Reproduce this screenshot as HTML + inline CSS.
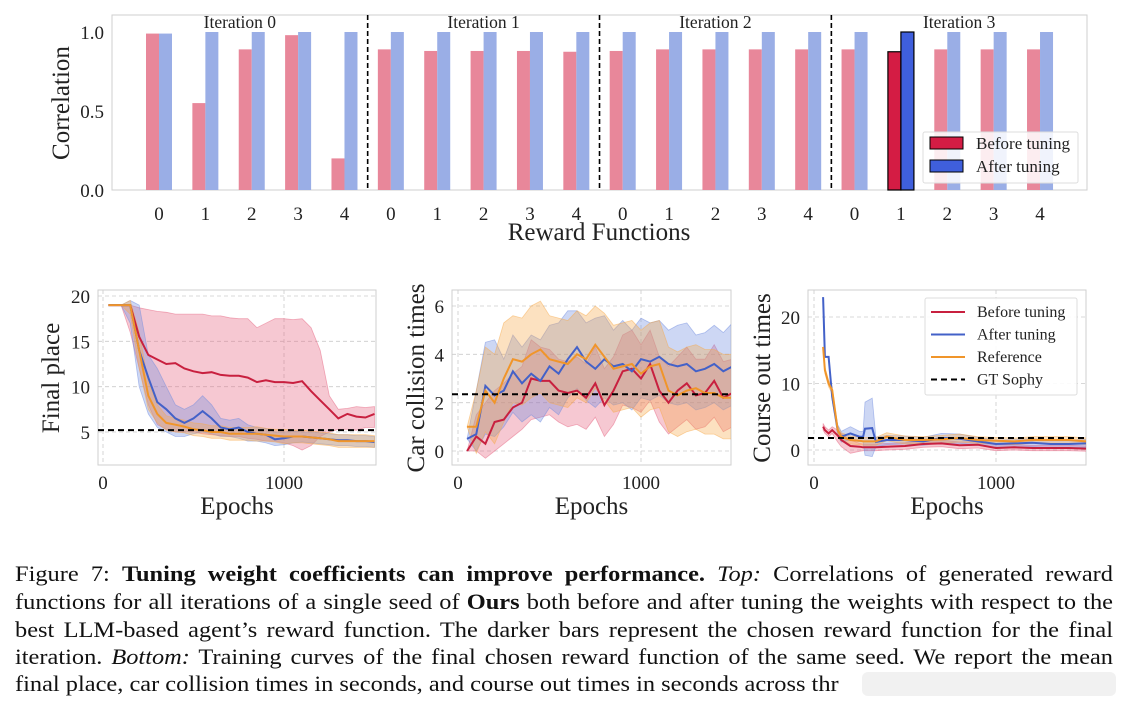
<!DOCTYPE html>
<html><head><meta charset="utf-8">
<style>
body{margin:0;background:#fff;width:1129px;height:707px;overflow:hidden;position:relative;font-family:"Liberation Serif",serif;}
svg{position:absolute;left:0;top:0}
.cap{position:absolute;left:15px;width:1098px;font-size:24.4px;color:#111;text-align:justify;text-align-last:justify;white-space:nowrap;line-height:27px;transform:scaleY(0.9);transform-origin:0 0;}
</style></head><body>
<svg id="fig" width="1129" height="540"></svg>
<div class="cap" style="top:562px">Figure 7: <b>Tuning weight coefficients can improve performance.</b> <i>Top:</i> Correlations of generated reward</div>
<div class="cap" style="top:590px">functions for all iterations of a single seed of <b>Ours</b> both before and after tuning the weights with respect to the</div>
<div class="cap" style="top:618px">best LLM-based agent’s reward function. The darker bars represent the chosen reward function for the final</div>
<div class="cap" style="top:645px">iteration. <i>Bottom:</i> Training curves of the final chosen reward function of the same seed. We report the mean</div>
<div class="cap" style="top:672px;width:auto;text-align-last:auto">final place, car collision times in seconds, and course out times in seconds across thr</div>
<div style="position:absolute;left:862px;top:672px;width:254px;height:24px;background:#eeeeee;border-radius:6px;opacity:.8"></div>
<script>
// ---------- Top chart data ----------
const rfLabels=[0,1,2,3,4,0,1,2,3,4,0,1,2,3,4,0,1,2,3,4];
const corrBefore=[0.99,0.55,0.89,0.98,0.20, 0.89,0.88,0.88,0.88,0.875, 0.88,0.89,0.89,0.89,0.89, 0.89,0.875,0.89,0.89,0.89];
const corrAfter=[0.99,1,1,1,1, 1,1,1,1,1, 1,1,1,1,1, 1,1,1,1,1];
const iterNames=["Iteration 0","Iteration 1","Iteration 2","Iteration 3"];
const corrTicks=[0.0,0.5,1.0];
const chosenIndex=16;

// ---------- Final place ----------
const fpEpochs=[30,100,150,200,250,300,350,400,450,500,550,600,650,700,750,800,850,900,950,1000,1050,1100,1150,1200,1250,1300,1350,1400,1450,1500];
const fpBefore=[19,19,19,15.5,13.5,13,12.5,12.6,12,11.7,11.5,11.6,11.3,11.2,11.2,11,10.5,10.7,10.5,10.5,10.4,10.6,9.5,8.5,7.5,6.5,7,6.7,6.6,7];
const fpBeforeHi=[19,19,19,18.7,18.5,18.3,18.2,18,18,18,18,17.8,17.8,17.6,17.5,17.5,16.5,17,17.5,17.5,17.4,17.5,16.5,14,9,7.5,7.6,7.8,7.7,7.8];
const fpBeforeLo=[19,19,16,12,8,5.8,5.3,5,5,5,4.8,4.7,4.6,4.5,4.5,4.3,4.2,4,4,3.8,3.5,3,3.5,4.5,5,5.3,5.3,5.2,5.5,5.5];
const fpAfter=[19,19,19,14,11,8.3,7.5,6.5,6,6.5,7.3,6.5,5.5,5.3,5.5,5,4.8,4.7,4.2,4.3,4.5,4.5,4.4,4.3,4.2,4.1,4.1,4,4,3.9];
const fpAfterHi=[19,19,19.5,19,13.5,12,10,8,7.5,8,9,8,6.5,6.3,6.5,5.8,5.5,5.4,5,5,5.1,5,5,4.9,4.8,4.7,4.7,4.6,4.6,4.5];
const fpAfterLo=[19,19,17,10,7,5.5,5,4.5,4.5,4.8,5,4.8,4.5,4.5,4.3,4,4,3.8,3.5,3.6,3.8,3.9,3.8,3.7,3.6,3.5,3.5,3.4,3.4,3.3];
const fpRef=[19,19,19,14,9,7,6,5.8,5.6,5.3,5.2,5,5,4.8,4.8,4.8,4.8,4.7,4.6,4.5,4.5,4.5,4.4,4.3,4.2,4,4,4,4,4];
const fpRefHi=[19,19,19.5,16,10.5,8,6.8,6.5,6.3,6,5.9,5.7,5.7,5.5,5.5,5.5,5.6,5.4,5.3,5.3,5.2,5.2,5.1,5,4.9,4.7,4.7,4.7,4.7,4.6];
const fpRefLo=[19,19,18,12,7.5,6,5.2,5,4.9,4.6,4.5,4.3,4.3,4.1,4.1,4.1,4,4,3.9,3.7,3.8,3.8,3.7,3.6,3.5,3.3,3.3,3.3,3.3,3.3];
const fpGT=5.2;
const fpTicks=[5,10,15,20];

// ---------- Car collision ----------
const ccEpochs=[50,100,150,200,250,300,350,400,450,500,550,600,650,700,750,800,850,900,950,1000,1050,1100,1150,1200,1250,1300,1350,1400,1450,1500];
const ccBefore=[0,0.6,0.3,1.2,1.3,1.8,2,3,2.9,2.9,2.5,2.4,2.5,2.2,2.8,1.9,2.5,3.3,3.4,3,3.6,2.5,2,2.5,2.8,2.3,2.4,2.9,2.2,2.4];
const ccBeforeHi=[0,1.5,2,2.5,2.8,3.2,3.5,4.6,4.3,4.2,3.8,3.7,3.9,3.6,4.3,3.4,3.9,4.8,5,4.4,5,3.9,3.5,3.9,4.3,3.8,3.8,4.4,3.7,3.8];
const ccBeforeLo=[0,0,-0.3,0,0.3,0.6,0.9,1.3,1.4,1.5,1.2,1.0,1.1,0.9,1.4,0.6,1.1,1.9,1.8,1.6,2.1,1.2,0.7,1.0,1.3,0.9,1.0,1.4,0.8,1.0];
const ccAfter=[0.5,0.7,2.7,2.3,2.5,3.3,2.8,3.2,2.9,3.5,3.2,3.8,4.3,3.7,3.4,3.8,3.5,3.6,3.3,3.8,3.7,3.9,3.6,3.5,3.6,3.3,3.4,3.6,3.3,3.5];
const ccAfterHi=[0.5,2.5,4.5,4.6,3.8,4.8,4.3,4.8,4.6,5.2,5.3,5.8,5.8,5.3,5.5,5.6,5,5.4,5,5.5,5.3,5.4,5,5.2,5.3,4.8,4.9,5.2,4.9,5.3];
const ccAfterLo=[0.5,0,0.7,0.6,1,1.6,1.2,1.5,1.2,1.8,1.5,2.2,2.6,2.1,1.8,2.2,1.9,2,1.7,2.2,2.1,2.3,2,1.9,2,1.7,1.8,2,1.7,1.9];
const ccRef=[1,1,2.5,2,3,3.8,3.7,4,4.2,3.8,3.7,3.6,4,3.8,4.4,3.9,3.4,3.5,3.6,3.2,3.5,3.6,2.5,2.3,2.5,2.6,2.4,2.4,2.2,2.2];
const ccRefHi=[1,2.5,4.3,4,5.3,5.6,5.5,6,6.2,5.6,5.5,5.4,5.8,5.6,6,5.7,5.2,5.3,5.4,5,5.3,5.4,4.3,4.1,4.3,4.4,4.2,4.2,4,4];
const ccRefLo=[1,-0.1,0.8,0.3,1.2,2,1.9,2.2,2.4,2,1.9,1.8,2.2,2,2.6,2.1,1.6,1.7,1.8,1.4,1.7,1.8,0.8,0.6,0.8,0.9,0.7,0.7,0.5,0.5];
const ccGT=2.35;
const ccTicks=[0,2,4,6];

// ---------- Course out ----------
const coEpochs=[50,60,80,100,130,150,200,250,270,280,320,340,400,500,600,700,800,900,1000,1100,1200,1300,1400,1500];
const coBefore=[3.5,3,2.5,3,2.2,1.5,0.6,0.5,0.4,0.4,0.4,0.4,0.5,0.6,0.9,1,0.7,0.8,0.3,0.4,0.3,0.3,0.3,0.2];
const coBeforeHi=[4,3.5,3,3.5,3,2.5,1.5,1,0.9,0.9,0.9,0.9,1,1.1,1.4,1.5,1.2,1.3,0.8,0.8,0.7,0.7,0.7,0.6];
const coBeforeLo=[3,2.5,2,2.5,1.2,0.5,-0.5,-0.2,-0.1,-0.1,-0.1,-0.1,0,0.1,0.4,0.5,0.2,0.3,-0.1,0,-0.1,-0.1,-0.1,-0.2];
const coAfter=[23,14,14,8,3,2,2.5,2,2,3.2,3.3,1.2,1.5,1.5,1.3,1.8,1.7,1.3,0.9,1,1.1,0.9,0.9,1];
const coAfterHi=[23,14,14,8.5,3.8,2.8,3.5,2.8,2.8,7.2,7.8,1.9,2.2,2.1,1.9,2.5,2.4,1.9,1.5,1.6,1.7,1.5,1.5,1.6];
const coAfterLo=[23,14,14,7.5,2.2,1.2,1.5,1.2,1.2,-0.8,-1,0.5,0.8,0.9,0.7,1.1,1,0.7,0.3,0.4,0.5,0.3,0.3,0.4];
const coRef=[15.5,12,10,9,3,2,1.5,1.4,1.3,1.3,1.3,1.3,2,1.5,1.5,1.6,1.8,1.5,1.4,1.3,1.5,1.5,1.5,1.3];
const coRefHi=[15.5,12.5,10.5,9.5,3.6,2.6,2.1,2,1.9,1.9,1.9,1.9,2.6,2.1,2,2.2,2.4,2,1.9,1.8,2,2,2,1.8];
const coRefLo=[15.5,11.5,9.5,8.5,2.4,1.4,0.9,0.8,0.7,0.7,0.7,0.7,1.4,0.9,1,1,1.2,1,0.9,0.8,1,1,1,0.8];
const coGT=1.8;
const coTicks=[0,10,20];
const epochTicks=[0,1000];

const NS="http://www.w3.org/2000/svg";
const svg=document.getElementById('fig');
function mk(tag,attrs,parent){const e=document.createElementNS(NS,tag);for(const k in attrs)e.setAttribute(k,attrs[k]);(parent||svg).appendChild(e);return e;}
function txt(s,x,y,size,anchor,parent,extra){const t=mk('text',Object.assign({x:x,y:y,'font-size':size,'text-anchor':anchor||'middle',fill:'#222','font-family':'"Liberation Serif",serif'},extra||{}),parent);t.textContent=s;return t;}

// ===== TOP =====
const topG=mk('g',{});


const TL=112,TR=1087,TT=15,TB=190;
const ty=v=>190-v*158;
const tx=i=>159+i*46.37;
mk('rect',{x:TL,y:TT,width:TR-TL,height:TB-TT,fill:'#fff',stroke:'#cfcfcf','stroke-width':1},topG);
corrTicks.forEach(v=>{const t=txt(v.toFixed(1),104,ty(v)+7,19,'end',topG);
});
rfLabels.forEach((l,i)=>{
  const hb=TB-ty(corrBefore[i]), ha=TB-ty(corrAfter[i]);
  const ch=i===chosenIndex;
  const b=mk('rect',{x:tx(i)-13,y:ty(corrBefore[i]),width:13,height:hb,fill:ch?'#d41c44':'#e8879a',stroke:ch?'#000':'none','stroke-width':1.2},topG);
  
  const a=mk('rect',{x:tx(i),y:ty(corrAfter[i]),width:13,height:ha,fill:ch?'#3f5fdc':'#9aaee6',stroke:ch?'#000':'none','stroke-width':1.2},topG);
  
  const t=txt(String(l),tx(i),220,19,'middle',topG);
  
});
const seps=[TL];
[1,2,3].forEach(k=>{const x=(tx(5*k-1)+tx(5*k))/2;seps.push(x);
 const d=mk('line',{x1:x,x2:x,y1:TT,y2:TB,stroke:'#000','stroke-width':1.6,'stroke-dasharray':'5,3'},topG);
 });
seps.push(TR);
iterNames.forEach((n,k)=>{const t=txt(n,(seps[k]+seps[k+1])/2,28,17.5,'middle',topG);
 });
const xt=txt('Reward Functions',599,240,25,'middle',topG);
const yt=txt('Correlation',69,103,25,'middle',topG,{transform:'rotate(-90 69 103)'});
const lg=mk('g',{},topG);
mk('rect',{x:923,y:132,width:155,height:51,fill:'#fff','fill-opacity':0.85,stroke:'#ddd',rx:2},lg);
mk('rect',{x:930,y:137,width:33,height:12,fill:'#d41c44',stroke:'#000'},lg);
mk('rect',{x:930,y:160,width:33,height:12,fill:'#3f5fdc',stroke:'#000'},lg);
txt('Before tuning',976,149,17,'start',lg);txt('After tuning',976,172,17,'start',lg);

// ===== BOTTOM =====
function lineChart(name,box,yTicks,series,gt,ylabel){
  const g=mk('g',{});
  
  
  const X=v=>box.x0+(v/1000)*(box.x1000-box.x0);
  const Y=v=>box.yA+(v-box.vA)*(box.yB-box.yA)/(box.vB-box.vA);
  mk('rect',{x:box.l,y:box.t,width:box.r-box.l,height:box.b-box.t,fill:'#fff',stroke:'#cfcfcf'},g);
  const clip=mk('clipPath',{id:'c'+name},g);mk('rect',{x:box.l,y:box.t,width:box.r-box.l,height:box.b-box.t},clip);
  yTicks.forEach(v=>{mk('line',{x1:box.l,x2:box.r,y1:Y(v),y2:Y(v),stroke:'#ccc','stroke-dasharray':'4,3','stroke-width':0.8},g);
    const t=txt(String(v),box.l-8,Y(v)+7,19,'end',g);});
  epochTicks.forEach(v=>{mk('line',{x1:X(v),x2:X(v),y1:box.t,y2:box.b,stroke:'#ccc','stroke-dasharray':'4,3','stroke-width':0.8},g);
    const t=txt(String(v),X(v),489,19,'middle',g);});
  const pg=mk('g',{'clip-path':'url(#c'+name+')'},g);
  series.forEach(s=>{
    let d='';s.x.forEach((e,i)=>{d+=(i?'L':'M')+X(e).toFixed(1)+','+Y(s.hi[i]).toFixed(1);});
    for(let i=s.x.length-1;i>=0;i--)d+='L'+X(s.x[i]).toFixed(1)+','+Y(s.lo[i]).toFixed(1);
    const b=mk('path',{d:d+'Z',fill:s.band,'fill-opacity':0.35,stroke:s.band,'stroke-opacity':0.5,'stroke-width':0.8},pg);
    
  });
  series.forEach(s=>{
    let d='';s.x.forEach((e,i)=>{d+=(i?'L':'M')+X(e).toFixed(1)+','+Y(s.y[i]).toFixed(1);});
    const l=mk('path',{d:d,fill:'none',stroke:s.color,'stroke-width':2},pg);
    
  });
  const gl=mk('line',{x1:box.l,x2:box.r,y1:Y(gt),y2:Y(gt),stroke:'#000','stroke-width':2,'stroke-dasharray':'6,4'},g);
  
  const cx=(box.l+box.r)/2;
  const xl=txt('Epochs',cx,514,25,'middle',g);
  const yl=txt(ylabel,box.ylx,378,25,'middle',g,{transform:'rotate(-90 '+box.ylx+' 378)'});
  return g;
}
const RED='#c8203f',BLUE='#4361c8',ORG='#f0952a';
const RB='#e5607e',BB='#6f8ce0',OB='#f7a94a';
lineChart('final-place-chart',{l:98,r:376,t:290,b:465,x0:103,x1000:284,yA:296,vA:20,yB:432,vB:5,ylx:59},
 fpTicks,[
 {id:'before-tuning',x:fpEpochs,y:fpBefore,lo:fpBeforeLo,hi:fpBeforeHi,color:RED,band:RB},
 {id:'after-tuning',x:fpEpochs,y:fpAfter,lo:fpAfterLo,hi:fpAfterHi,color:BLUE,band:BB},
 {id:'reference',x:fpEpochs,y:fpRef,lo:fpRefLo,hi:fpRefHi,color:ORG,band:OB}],fpGT,'Final place');
lineChart('car-collision-chart',{l:452,r:731,t:290,b:465,x0:458,x1000:641,yA:451,vA:0,yB:306,vB:6,ylx:424},
 ccTicks,[
 {id:'before-tuning',x:ccEpochs,y:ccBefore,lo:ccBeforeLo,hi:ccBeforeHi,color:RED,band:RB},
 {id:'after-tuning',x:ccEpochs,y:ccAfter,lo:ccAfterLo,hi:ccAfterHi,color:BLUE,band:BB},
 {id:'reference',x:ccEpochs,y:ccRef,lo:ccRefLo,hi:ccRefHi,color:ORG,band:OB}],ccGT,'Car collision times');
const c3=lineChart('course-out-chart',{l:808,r:1086,t:290,b:465,x0:814,x1000:996,yA:450,vA:0,yB:317,vB:20,ylx:770},
 coTicks,[
 {id:'before-tuning',x:coEpochs,y:coBefore,lo:coBeforeLo,hi:coBeforeHi,color:RED,band:RB},
 {id:'after-tuning',x:coEpochs,y:coAfter,lo:coAfterLo,hi:coAfterHi,color:BLUE,band:BB},
 {id:'reference',x:coEpochs,y:coRef,lo:coRefLo,hi:coRefHi,color:ORG,band:OB}],coGT,'Course out times');
const lg2=mk('g',{},c3);
mk('rect',{x:925,y:298,width:152,height:97,fill:'#fff','fill-opacity':0.9,stroke:'#ddd',rx:2},lg2);
[['Before tuning',RED,''],['After tuning',BLUE,''],['Reference',ORG,''],['GT Sophy','#000','6,4']].forEach((e,i)=>{
  const yy=312+i*22.5;
  mk('line',{x1:931,x2:965,y1:yy,y2:yy,stroke:e[1],'stroke-width':2,'stroke-dasharray':e[2]},lg2);
  txt(e[0],977,yy+5,16,'start',lg2);
});
</script>
</body></html>
